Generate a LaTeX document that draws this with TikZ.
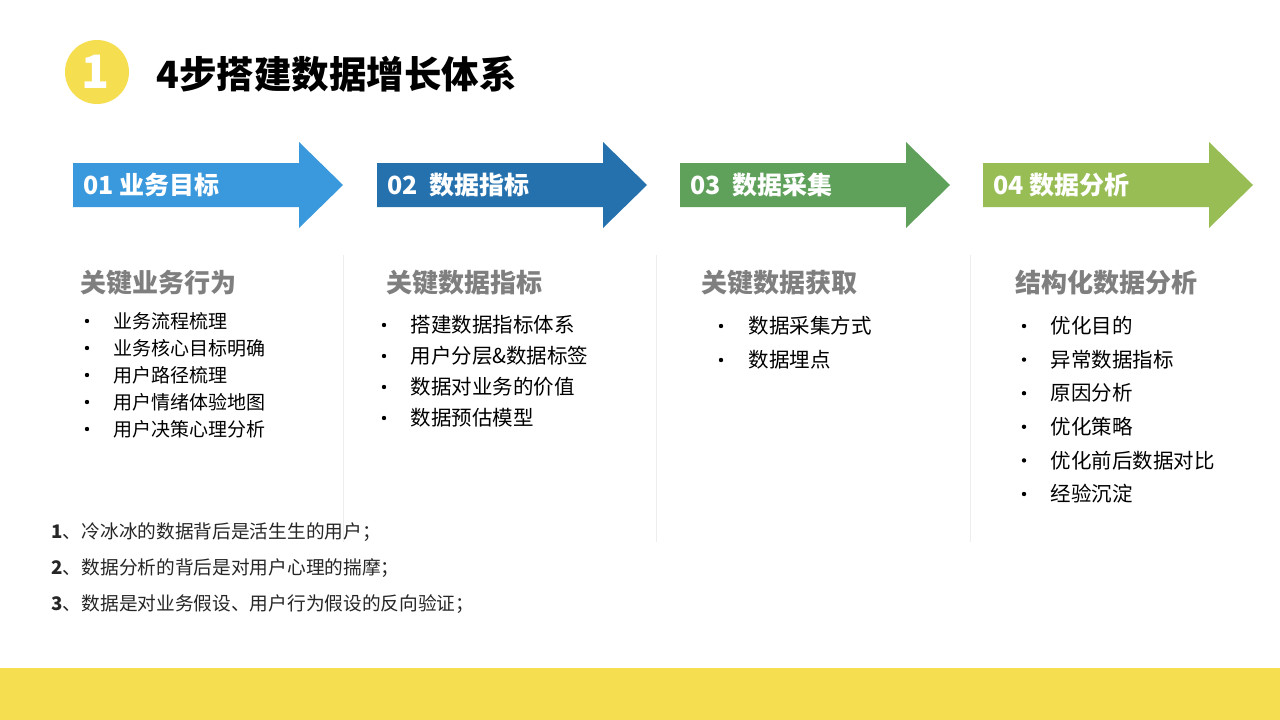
\documentclass[tikz,border=0pt]{standalone}
\usepackage{fontspec}
\setmainfont{Noto Sans CJK SC}
\usepackage{tikz}
\definecolor{sunyellow}{HTML}{F5DE50}
\definecolor{stepone}{HTML}{3A98DC}
\definecolor{steptwo}{HTML}{2471AE}
\definecolor{stepthree}{HTML}{5FA05A}
\definecolor{stepfour}{HTML}{98BD55}
\definecolor{headgray}{HTML}{7F7F7F}
\definecolor{rulegray}{HTML}{EDEDED}

\tikzset{
  steptext/.style={anchor=west, text=white, font=\fontsize{25}{27}\selectfont\bfseries},
  headtext/.style={anchor=west, text=headgray, font=\fontsize{26}{29}\selectfont\bfseries},
  itemtext/.style={anchor=west, text=black, font=\fontsize{20.5}{23}\selectfont},
  notetext/.style={anchor=west, text=black!85, font=\fontsize{18.7}{21}\selectfont},
}

\begin{document}
\begin{tikzpicture}[x=1pt, y=-1pt]
      \useasboundingbox[fill=white] (0,0) rectangle (1280,720);
      % title
      \fill[sunyellow] (97,72) circle (32);
      \node[text=white, font=\fontsize{46}{46}\selectfont\bfseries] (num) at (96,72) {1};
      \node[anchor=west, font=\fontsize{37.5}{40}\selectfont\bfseries] (title) at (153,74) {4步搭建数据增长体系};
      % step arrows
      \foreach \x/\c/\t [count=\i] in {73/stepone/01 业务目标, 377/steptwo/02 \ 数据指标, 680/stepthree/03 \ 数据采集, 983/stepfour/04 数据分析} {
        \fill[\c] (\x,163) -- ({\x+226},163) -- ({\x+226},142) -- ({\x+270},185) -- ({\x+226},228) -- ({\x+226},207) -- (\x,207) -- cycle;
        \node[steptext] (step\i) at ({\x+7},185) {\t};
      }
      % separators
      \foreach \x in {343,656,970}
        \draw[rulegray, line width=1pt] (\x,255) -- (\x,542);
      % column heads
      \node[headtext] (headA) at (77,283) {关键业务行为};
      \node[headtext] (headB) at (383,283) {关键数据指标};
      \node[headtext] (headC) at (698,283) {关键数据获取};
      \node[headtext] (headD) at (1012,283) {结构化数据分析};
      % items
      \foreach \t [count=\i] in {业务流程梳理, 业务核心目标明确, 用户路径梳理, 用户情绪体验地图, 用户决策心理分析} {
        \fill (87,{321+27*(\i-1)}) circle (2.2);
        \node[itemtext, font=\fontsize{19}{22}\selectfont] (itemA\i) at (110,{321+27*(\i-1)}) {\t};
      }
      \foreach \t [count=\i] in {搭建数据指标体系, 用户分层\&数据标签, 数据对业务的价值, 数据预估模型} {
        \fill (384,{325+31*(\i-1)}) circle (2.2);
        \node[itemtext] (itemB\i) at (407,{325+31*(\i-1)}) {\t};
      }
      \foreach \t [count=\i] in {数据采集方式, 数据埋点} {
        \fill (721,{326+34*(\i-1)}) circle (2.2);
        \node[itemtext] (itemC\i) at (745,{326+34*(\i-1)}) {\t};
      }
      \foreach \t [count=\i] in {优化目的, 异常数据指标, 原因分析, 优化策略, 优化前后数据对比, 经验沉淀} {
        \fill (1024,{326+33.6*(\i-1)}) circle (2.2);
        \node[itemtext] (itemD\i) at (1047,{326+33.6*(\i-1)}) {\t};
      }
      % notes
      \node[notetext] (noteA) at (48,532) {\textbf{1}、冷冰冰的数据背后是活生生的用户；};
      \node[notetext] (noteB) at (48,568) {\textbf{2}、数据分析的背后是对用户心理的揣摩；};
      \node[notetext] (noteC) at (48,604) {\textbf{3}、数据是对业务假设、用户行为假设的反向验证；};
      % bottom band
      \fill[sunyellow] (0,668) rectangle (1280,720);
    \end{tikzpicture}
\end{document}
